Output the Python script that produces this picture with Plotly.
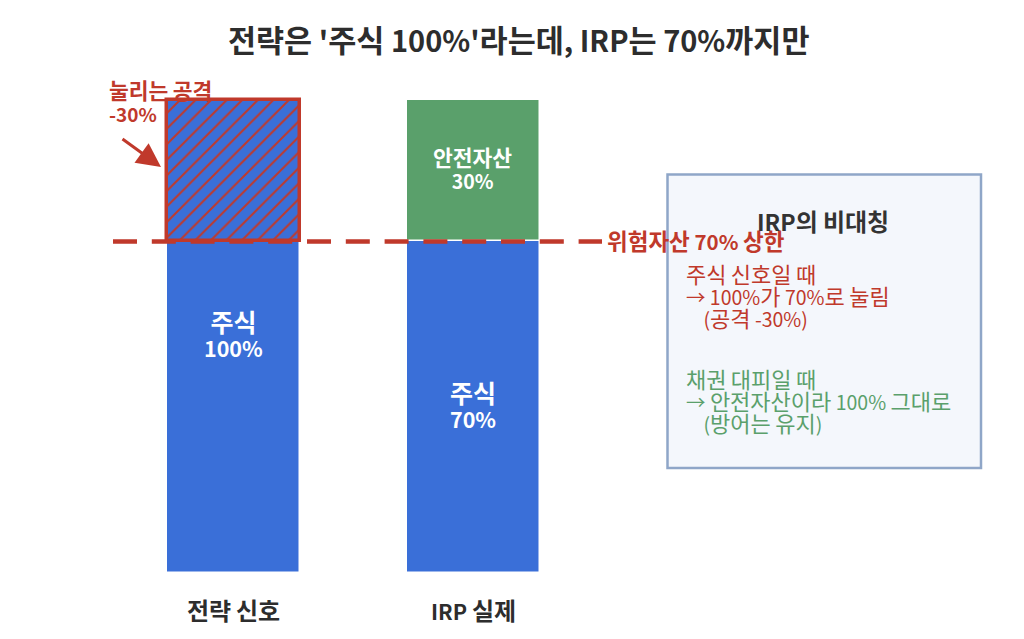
import re
import plotly.graph_objects as go

categories = ["전략 신호", "IRP 실제"]
equity = [100, 70]
safe_asset = [30]
squeezed = [30]
cap = 70
FONT = "Noto Sans CJK KR"
BLUE = "#3a6fd8"
GREEN = "#5aa06b"
RED = "#c0392b"
W, H = 1024, 639
PLOT_H = 594
BASE_PX = 572.5
PX_PER_UNIT = 4.73

def xv(px):
    return (px - 233.5) / 240

def mix(text, hangul, latin):
    lines = []
    for line in text.split("<br>"):
        parts = re.findall(r"[가-힣]+|[^가-힣]+", line)
        lines.append("".join(
            f'<span style="font-size:{hangul if re.match("[가-힣]", p) else latin}px">{p}</span>' for p in parts))
    return "<br>".join(lines)

fig = go.Figure()
fig.add_bar(x=[0, 1], y=equity, width=0.556, marker=dict(color=BLUE, line=dict(color="white", width=1.5)), showlegend=False)
fig.add_bar(x=[1], y=safe_asset, base=[equity[1]], width=0.556, marker=dict(color=GREEN, line=dict(color="white", width=1.5)), showlegend=False)
fig.add_bar(x=[0], y=squeezed, base=[cap], width=0.556,
            marker=dict(color=BLUE, line=dict(color=RED, width=3.5),
                        pattern=dict(shape="/", fgcolor=RED, bgcolor=BLUE, size=11, solidity=0.18, fillmode="replace")),
            showlegend=False)
fig.add_scatter(x=[xv(113), xv(602)], y=[cap, cap], mode="lines", line=dict(color=RED, width=4.5, dash="24px,14.8px"), showlegend=False)

def note(text, px, py, base, hangul, latin, color, bold=False, align="center", anchor="center"):
    t = mix(text, hangul, latin)
    fig.add_annotation(xref="paper", yref="paper", x=px / W, y=1 - py / PLOT_H, text=f"<b>{t}</b>" if bold else t,
                       showarrow=False, xanchor=anchor, yanchor="middle", align=align,
                       font=dict(family=FONT, size=base, color=color))

note("전략은 '주식 100%'라는데, IRP는 70%까지만", 518, 39, 29, 30.5, 29, "#2d2d2d", True)
note("주식<br>100%", 233, 333, 19, 25, 21.5, "white", True)
note("주식<br>70%", 473, 404, 19, 25, 21.5, "white", True)
note("안전자산<br>30%", 472, 167.5, 17.5, 21.5, 19.5, "white", True)
note("눌리는 공격<br>-30%", 107, 100, 17.5, 21.5, 19, RED, True, "left", "left")
note("위험자산 70% 상한", 605, 240, 20, 22.5, 20.5, RED, True, "left", "left")
note("IRP의 비대칭", 823, 220, 22, 24, 23, "#333333", True)
note("주식 신호일 때<br>→ 100%가 70%로 눌림<br>    (공격 -30%)", 684, 294.5, 17, 22, 19.5, RED, False, "left", "left")
note("채권 대피일 때<br>→ 안전자산이라 100% 그대로<br>    (방어는 유지)", 684, 400, 17, 22, 19.5, GREEN, False, "left", "left")

fig.add_annotation(xref="paper", yref="paper", x=161 / W, y=1 - 167 / PLOT_H, ax=121 - 161, ay=138 - 167,
                   text="", showarrow=True, arrowhead=2, arrowsize=1.6, arrowwidth=3, arrowcolor=RED)

fig.add_shape(type="rect", xref="paper", yref="paper", x0=667.5 / W, x1=981 / W, y0=1 - 468 / PLOT_H, y1=1 - 174.5 / PLOT_H,
              fillcolor="#f4f7fc", line=dict(color="#8fa6c8", width=2.5), layer="above")

fig.update_layout(
    width=W, height=H, margin=dict(l=0, r=0, t=0, b=H - PLOT_H), plot_bgcolor="white", paper_bgcolor="white",
    barmode="overlay", bargap=0,
    xaxis=dict(range=[xv(0), xv(W)], tickmode="array", tickvals=[0, 1],
               ticktext=[f"<b>{mix(c, 24, 21.5)}</b>" for c in categories], showgrid=False, zeroline=False,
               showline=False, ticks="outside", ticklen=1, tickcolor="rgba(0,0,0,0)", automargin=False,
               tickfont=dict(family=FONT, size=20, color="#2d2d2d")),
    yaxis=dict(range=[-(PLOT_H - BASE_PX) / PX_PER_UNIT, BASE_PX / PX_PER_UNIT], visible=False),
    font=dict(family=FONT),
)
fig.write_html("out.html", config={"displayModeBar": False}, post_script="document.body.style.margin='0';")
